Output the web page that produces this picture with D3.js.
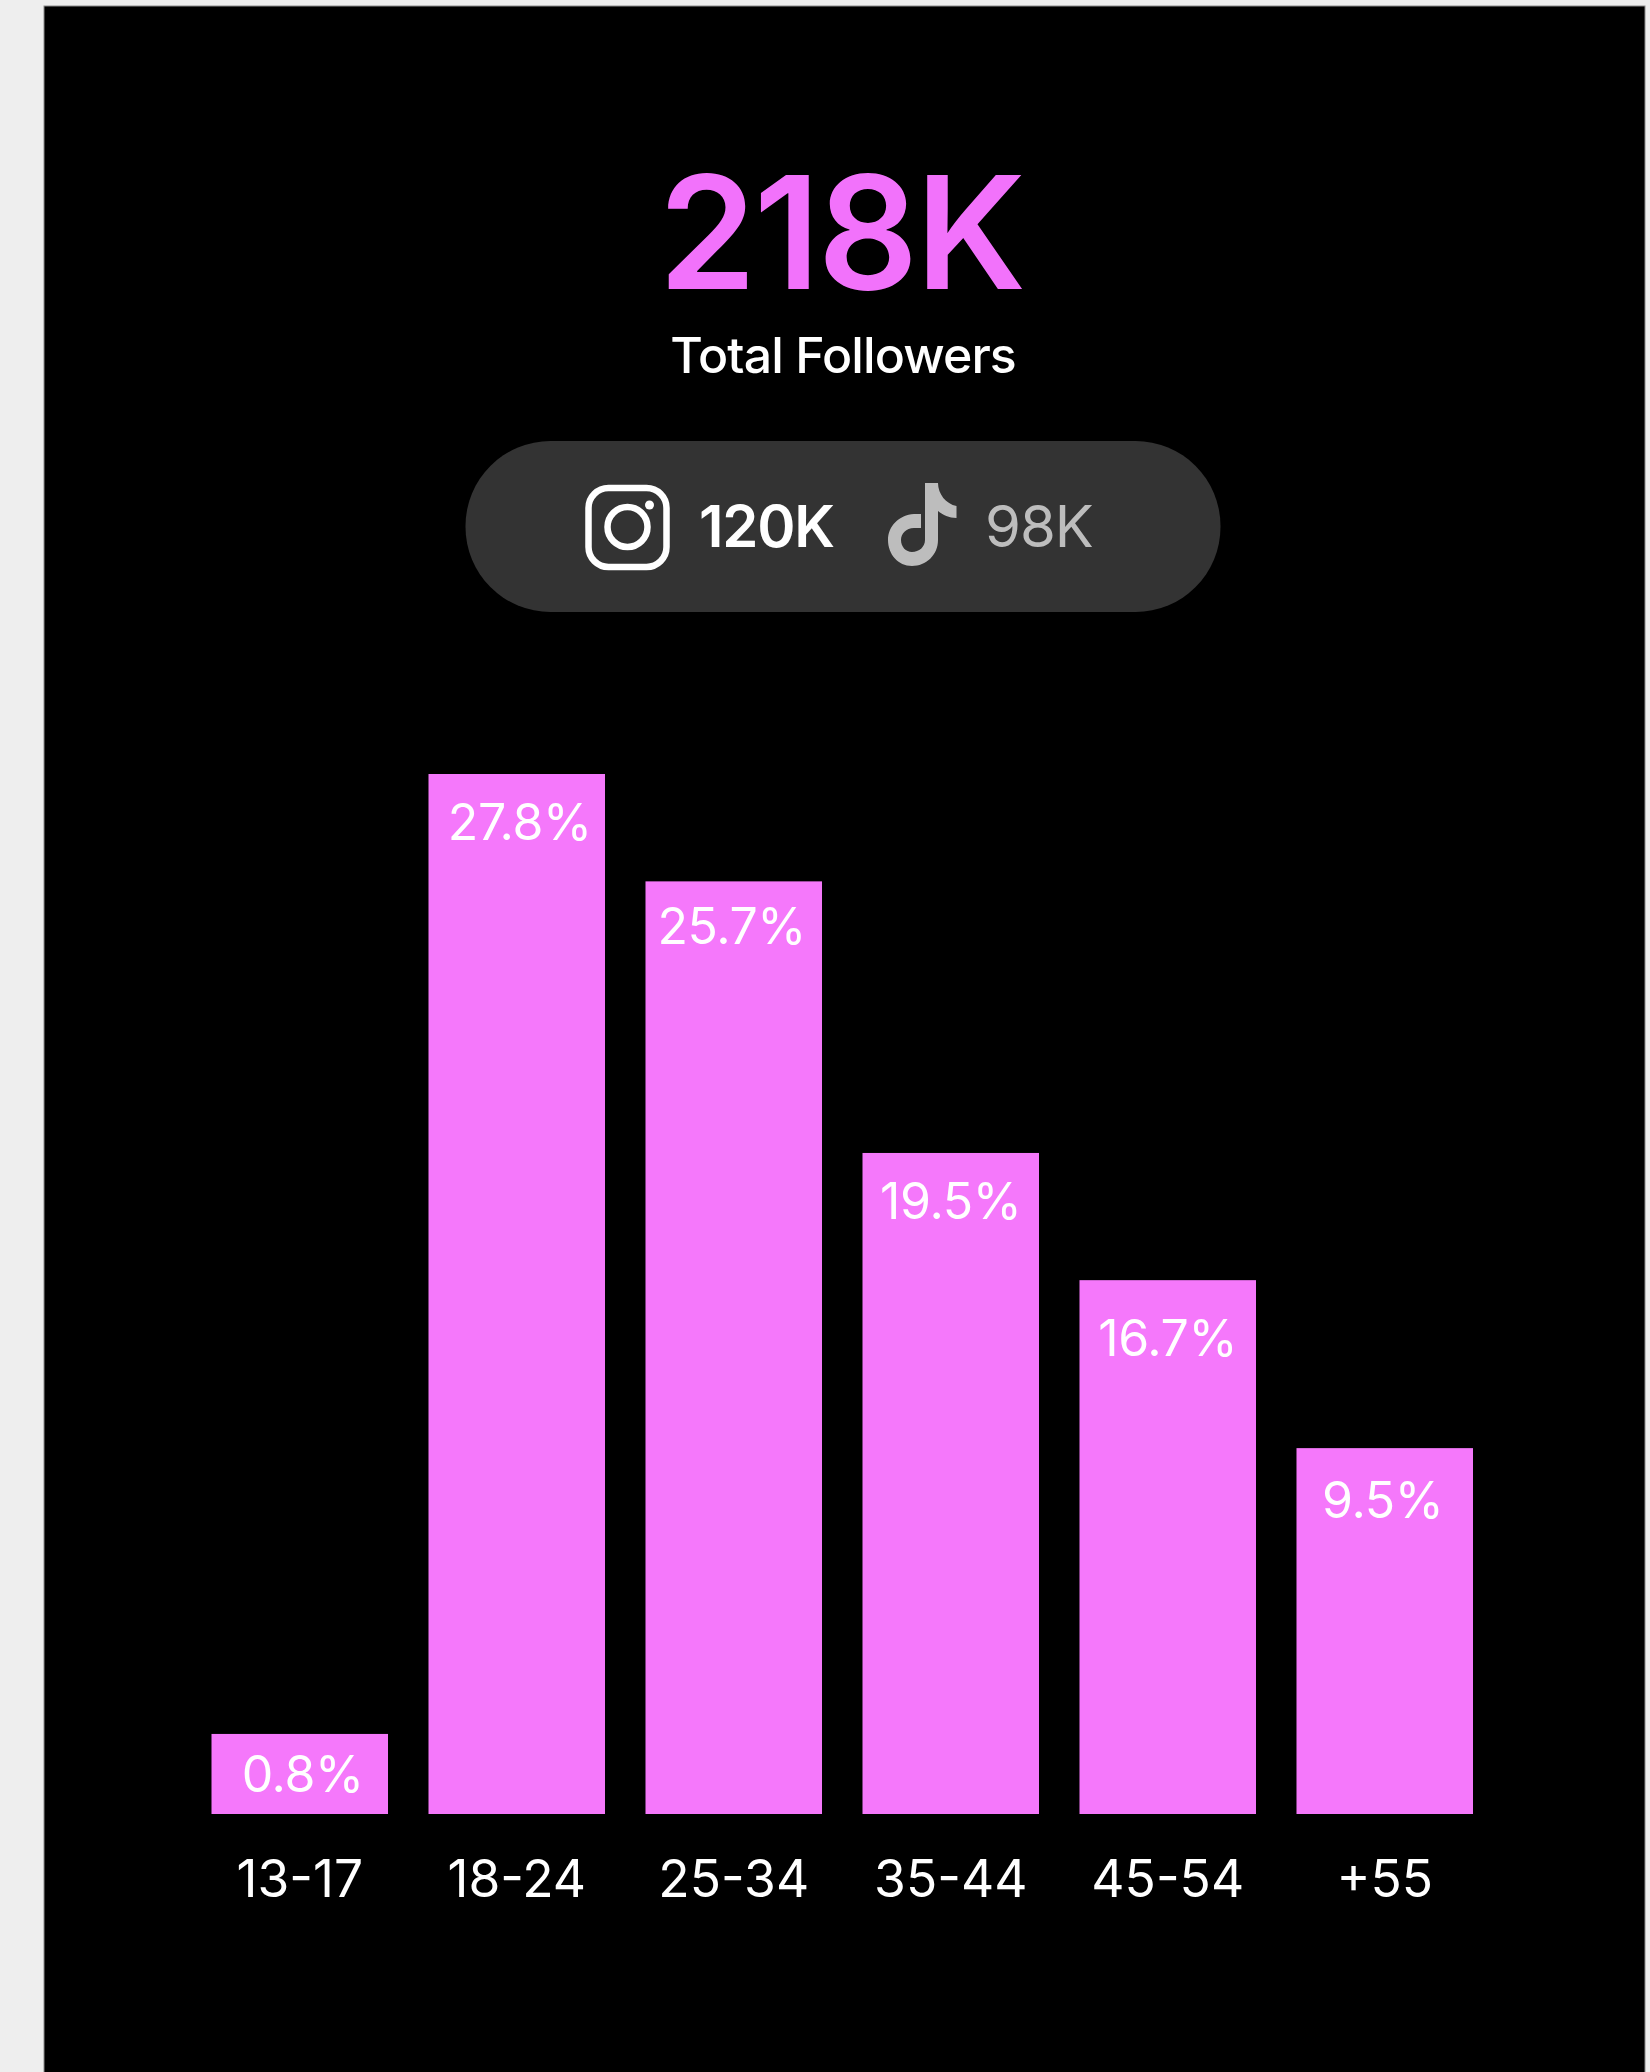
<!DOCTYPE html>
<html>
<head>
<meta charset="utf-8">
<script src="https://cdn.jsdelivr.net/npm/d3@7"></script>
<style>
  html, body { margin: 0; padding: 0; background: #eeeeee; }
  svg { display: block; }
  text { font-family: Inter, "Noto Sans", sans-serif; }
</style>
</head>
<body>
<div id="chart"></div>
<script>
const categories = ["13-17", "18-24", "25-34", "35-44", "45-54", "+55"];
// printed percentages
const shareLabels = ["0.8%", "27.8%", "25.7%", "19.5%", "16.7%", "9.5%"];
// bar lengths: they are not proportional to the printed
// percentages (the 0.8% bar is drawn far too long), so they are kept separately
const barLengths = [2.14, 27.8, 24.93, 17.67, 14.27, 9.78];

const totalValue = "218K";
const totalLabel = "Total Followers";
const instagramValue = "120K";
const tiktokValue = "98K";

const width = 1650, height = 2072;
const pink = "#f578fb";
const margin = {top: 774, bottom: 1814, left: 211.5, right: 1473};

const svg = d3.select("#chart").append("svg")
    .attr("width", width)
    .attr("height", height);

// dark panel
svg.append("rect")
    .attr("x", 44).attr("y", 6)
    .attr("width", 1601).attr("height", height)
    .attr("fill", "#000")
    .attr("stroke", "#8c8c8c")
    .attr("stroke-width", 1);

// header
svg.append("text")
    .attr("x", 841).attr("y", 289)
    .attr("text-anchor", "middle")
    .attr("font-size", 157)
    .attr("font-weight", 600)
    .attr("letter-spacing", -2.5)
    .attr("fill", "#f272fb")
    .text(totalValue);

svg.append("text")
    .attr("x", 843).attr("y", 373)
    .attr("text-anchor", "middle")
    .attr("font-size", 50)
    .attr("font-weight", 500)
    .attr("letter-spacing", -0.9)
    .attr("fill", "#fff")
    .text(totalLabel);

// pill with the two platforms
svg.append("rect")
    .attr("x", 465.5).attr("y", 441)
    .attr("width", 755).attr("height", 171)
    .attr("rx", 85)
    .attr("fill", "#333333");

const insta = svg.append("g");
insta.append("rect")
    .attr("x", 588.5).attr("y", 488)
    .attr("width", 78).attr("height", 79)
    .attr("rx", 20)
    .attr("fill", "none").attr("stroke", "#fff").attr("stroke-width", 6.5);
insta.append("circle")
    .attr("cx", 627.5).attr("cy", 527)
    .attr("r", 20)
    .attr("fill", "none").attr("stroke", "#fff").attr("stroke-width", 6.5);
insta.append("circle")
    .attr("cx", 649.5).attr("cy", 505)
    .attr("r", 4.5)
    .attr("fill", "#fff");

svg.append("text")
    .attr("x", 699).attr("y", 547)
    .attr("font-size", 58)
    .attr("font-weight", 600)
    .attr("letter-spacing", -1.2)
    .attr("fill", "#fff")
    .text(instagramValue);

// tiktok note
svg.append("path")
    .attr("d", "M925 483 H938 C938 494 946 504 956.5 506 V518 C949 518 943 515 938 511 V540 C938 555 926 566 912 566 C898 566 888 554 888 540 C888 526 899 515 914 514 H921 V528 H914 C906 528 901 534 901 540 C901 547 906 552 912 552 C919 552 925 547 925 540 Z")
    .attr("fill", "#bdbdbd");

svg.append("text")
    .attr("x", 985).attr("y", 547)
    .attr("font-size", 58)
    .attr("letter-spacing", -1)
    .attr("fill", "#bdbdbd")
    .text(tiktokValue);

// bars
const x = d3.scaleBand()
    .domain(categories)
    .range([margin.left, margin.right])
    .paddingInner(0.1866);

const y = d3.scaleLinear()
    .domain([0, d3.max(barLengths)])
    .range([margin.bottom, margin.top]);

const xAxis = d3.axisBottom(x).tickSize(0).tickPadding(46);

svg.selectAll("rect.bar")
    .data(categories)
    .enter()
    .append("rect")
    .attr("class", "bar")
    .attr("x", d => x(d))
    .attr("y", (d, i) => y(barLengths[i]))
    .attr("width", x.bandwidth())
    .attr("height", (d, i) => margin.bottom - y(barLengths[i]))
    .attr("fill", pink);

// the labels are hand placed in the original, not quite centred in their bars
const labelNudgeX = [3, 3, -2, 0, 0, -2];
const labelDrop = [58, 66, 63, 66, 76, 70];

svg.selectAll("text.share")
    .data(categories)
    .enter()
    .append("text")
    .attr("class", "share")
    .attr("x", (d, i) => x(d) + x.bandwidth() / 2 + labelNudgeX[i])
    .attr("y", (d, i) => y(barLengths[i]) + labelDrop[i])
    .attr("text-anchor", "middle")
    .attr("font-size", 50)
    .attr("letter-spacing", -0.4)
    .attr("fill", "#fff")
    .text((d, i) => shareLabels[i]);

svg.append("g")
    .attr("transform", `translate(0,${margin.bottom})`)
    .call(xAxis)
    .call(g => g.select(".domain").remove())
    .call(g => g.selectAll(".tick text")
        .attr("font-family", "Inter")
        .attr("font-size", 51.5)
        .attr("fill", "#fff"));
</script>
</body>
</html>
